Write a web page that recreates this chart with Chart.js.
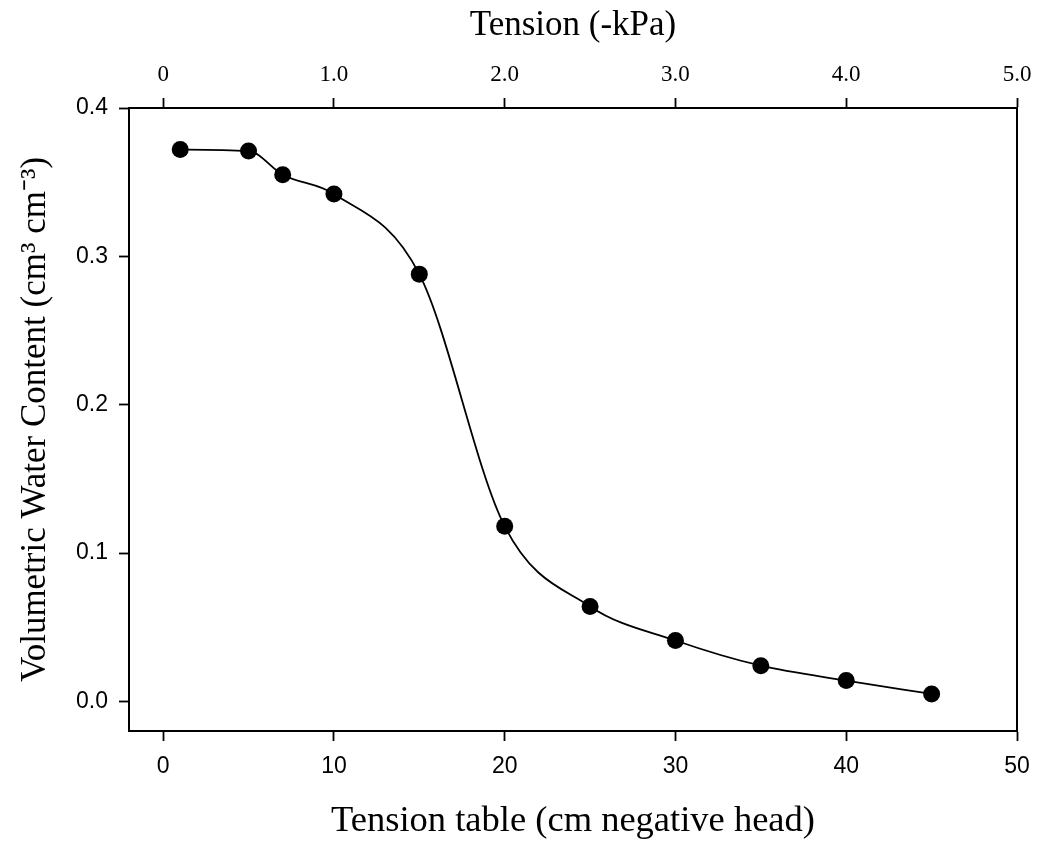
<!DOCTYPE html>
<html>
<head>
<meta charset="utf-8">
<script src="https://cdn.jsdelivr.net/npm/chart.js@4/dist/chart.umd.min.js"></script>
<style>
  html, body { margin: 0; padding: 0; background: #ffffff; }
  #wrap { width: 1037px; height: 843px; position: relative; }
</style>
</head>
<body>
<div id="wrap"><canvas id="c" width="1037" height="843"></canvas></div>
<script>
// ---- data ----
const tensionCm = [1, 5, 7, 10, 15, 20, 25, 30, 35, 40, 45];
const waterContent = [0.372, 0.371, 0.355, 0.342, 0.288, 0.118, 0.064, 0.041, 0.024, 0.014, 0.005];

const bottomTicks = [0, 10, 20, 30, 40, 50];
const leftTicks = [0.0, 0.1, 0.2, 0.3, 0.4];
const topTicks = [0, 1, 2, 3, 4, 5];
const topTickLabels = ['0', '1.0', '2.0', '3.0', '4.0', '5.0'];

const xTitle = 'Tension table (cm negative head)';
const topTitle = 'Tension (-kPa)';
const yTitle = 'Volumetric Water Content (cm\u00B3 cm\u207B\u00B3)';

const sans = 'Arial, "Liberation Sans", sans-serif';
const serif = '"Times New Roman", "Liberation Serif", serif';
const ink = '#000000';

const setTicks = (vals) => (axis) => { axis.ticks = vals.map(v => ({ value: v })); };

new Chart(document.getElementById('c'), {
  type: 'line',
  data: {
    datasets: [{
      data: tensionCm.map((x, i) => ({ x: x, y: waterContent[i] })),
      borderColor: ink,
      borderWidth: 1.8,
      backgroundColor: ink,
      pointBackgroundColor: ink,
      pointBorderColor: ink,
      pointRadius: 8.5,
      pointBorderWidth: 0,
      cubicInterpolationMode: 'monotone',
      fill: false,
      clip: false
    }]
  },
  options: {
    responsive: false,
    animation: false,
    events: [],
    layout: { padding: { left: 0, right: 0, top: 0, bottom: 0 } },
    plugins: { legend: { display: false }, tooltip: { enabled: false } },
    scales: {
      x: {
        type: 'linear', position: 'bottom', min: -2, max: 50,
        afterBuildTicks: setTicks(bottomTicks),
        afterFit: (s) => { s.height = 112; s.paddingLeft = 0; s.paddingRight = 0; },
        grid: { drawOnChartArea: false, drawTicks: true, tickLength: 10, tickWidth: 1.8, tickColor: ink },
        border: { display: true, color: ink, width: 2 },
        ticks: { color: ink, font: { family: sans, size: 23 }, padding: 12, maxRotation: 0, autoSkip: false },
        title: { display: true, text: xTitle, color: ink, font: { family: serif, size: 36.5 }, padding: { top: 0, bottom: 0 } }
      },
      x2: {
        type: 'linear', position: 'top', min: -0.2, max: 5.0,
        afterBuildTicks: setTicks(topTicks),
        afterFit: (s) => { s.height = 108; s.paddingLeft = 0; s.paddingRight = 0; },
        grid: { drawOnChartArea: false, drawTicks: true, tickLength: 10, tickWidth: 1.8, tickColor: ink },
        border: { display: true, color: ink, width: 2 },
        ticks: { color: ink, font: { family: serif, size: 23 }, padding: 9, maxRotation: 0, autoSkip: false,
                 callback: (v) => { const i = topTicks.indexOf(v); return i >= 0 ? topTickLabels[i] : ''; } },
        title: { display: true, text: topTitle, color: ink, font: { family: serif, size: 35 }, padding: { top: 5, bottom: 0 } }
      },
      y: {
        type: 'linear', position: 'left', min: -0.02, max: 0.4,
        afterBuildTicks: setTicks(leftTicks),
        afterFit: (s) => { s.width = 129; },
        grid: { drawOnChartArea: false, drawTicks: true, tickLength: 10, tickWidth: 1.8, tickColor: ink },
        border: { display: true, color: ink, width: 2 },
        ticks: { color: ink, font: { family: sans, size: 23 }, padding: 11, autoSkip: false,
                 callback: (v) => Number(v).toFixed(1) },
        title: { display: true, text: yTitle, color: ink, font: { family: serif, size: 35 }, padding: { top: 15, bottom: 0 } }
      },
      yR: {
        type: 'linear', position: 'right', min: -0.02, max: 0.4,
        afterFit: (s) => { s.width = 20; },
        grid: { drawOnChartArea: false, drawTicks: false },
        border: { display: true, color: ink, width: 2 },
        ticks: { display: false }
      }
    }
  }
});
</script>
</body>
</html>
